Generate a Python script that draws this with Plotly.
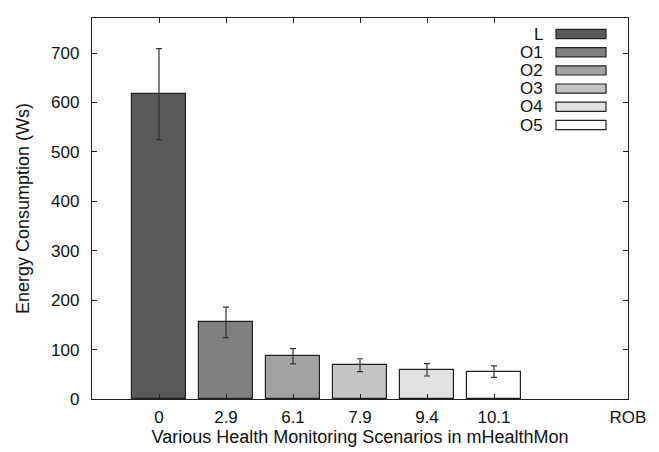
import plotly.graph_objects as go

# ---- data ----
scenarios = ["0", "2.9", "6.1", "7.9", "9.4", "10.1"]
series_names = ["L", "O1", "O2", "O3", "O4", "O5"]
energy = [617, 155, 86.5, 68.5, 59, 55.5]
err = [92, 31, 15.5, 13, 12.5, 11.7]
colors = ["#595959", "#808080", "#a2a2a2", "#c5c5c5", "#e1e1e1", "#ffffff"]
extra_label = "ROB"

W, H = 659, 452
ML, MR, MT, MB = 92, 31, 18, 53
PW, PH = W - ML - MR, H - MT - MB
FONT = "Liberation Sans, Arial, sans-serif"

xs = list(range(len(scenarios)))
rob_pos = len(scenarios) + 1

fig = go.Figure()
fig.add_trace(go.Bar(
    x=xs, y=energy, width=0.8,
    marker=dict(color=colors, line=dict(color="#222222", width=1.2)),
    error_y=dict(type="data", array=err, visible=True, color="#333333",
                 thickness=1.2, width=3),
    showlegend=False,
))

def px_x(x):
    return (x - ML) / PW

def px_y(y):
    return (H - MB - y) / PH

shapes = []
annotations = []
row0, step = 34, 18.2
for i, (name, c) in enumerate(zip(series_names, colors)):
    yc = row0 + step * i
    shapes.append(dict(type="rect", xref="paper", yref="paper",
                       x0=px_x(556), x1=px_x(606),
                       y0=px_y(yc - 4.6), y1=px_y(yc + 4.6),
                       fillcolor=c, line=dict(color="#222222", width=1.2)))
    annotations.append(dict(xref="paper", yref="paper", x=px_x(545), y=px_y(yc),
                            xanchor="right", yanchor="middle", text=name,
                            showarrow=False,
                            font=dict(family=FONT, size=17, color="#111111")))

fig.update_layout(
    width=W, height=H,
    margin=dict(l=ML, r=MR, t=MT, b=MB, pad=0),
    paper_bgcolor="white", plot_bgcolor="white",
    font=dict(family=FONT, size=14, color="#111111"),
    bargap=0,
    shapes=shapes, annotations=annotations,
    xaxis=dict(
        range=[-1, rob_pos],
        tickvals=xs + [rob_pos], ticktext=scenarios + [extra_label],
        ticks="inside", ticklen=5, tickcolor="#222222",
        showline=True, linecolor="#222222", linewidth=1.3, mirror="ticks",
        showgrid=False, zeroline=False, automargin=False,
        tickfont=dict(family=FONT, size=17),
        ticklabelstandoff=2,
        title=dict(text="Various Health Monitoring Scenarios in mHealthMon",
                   font=dict(family=FONT, size=18), standoff=4),
    ),
    yaxis=dict(
        range=[0, 771],
        tickvals=[0, 100, 200, 300, 400, 500, 600, 700],
        ticks="inside", ticklen=5, tickcolor="#222222",
        showline=True, linecolor="#222222", linewidth=1.3, mirror="ticks",
        showgrid=False, zeroline=False, automargin=False,
        tickfont=dict(family=FONT, size=17),
        ticklabelstandoff=8,
        title=dict(text="Energy Consumption (Ws)",
                   font=dict(family=FONT, size=18), standoff=16),
    ),
)

fig.write_html("out.html")
